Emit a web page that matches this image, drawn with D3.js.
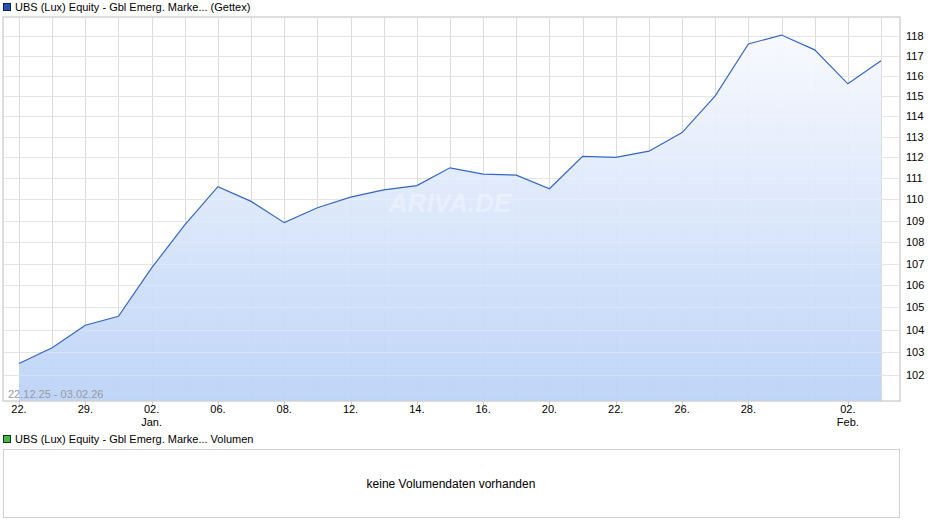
<!DOCTYPE html><html><head><meta charset="utf-8"><script src="https://cdn.jsdelivr.net/npm/d3@7"></script>
<style>body{margin:0;background:#fff;font-family:"Liberation Sans",Arial,sans-serif}</style></head><body><svg id="c" width="940" height="526"></svg>
<script>
const dates=["22.12","23.12","29.12","30.12","02.01","05.01","06.01","07.01","08.01","09.01","12.01","13.01","14.01","15.01","16.01","19.01","20.01","21.01","22.01","23.01","26.01","27.01","28.01","29.01","30.01","02.02","03.02"];
const values=[102.5,103.2,104.2,104.6,106.8,108.8,110.6,109.9,108.9,109.6,110.1,110.45,110.65,111.5,111.2,111.15,110.5,112.05,112.0,112.3,113.2,115.0,117.6,118.05,117.3,115.6,116.75];
const xLabels={"22.12":["22."],"29.12":["29."],"02.01":["02.","Jan."],"06.01":["06."],"08.01":["08."],"12.01":["12."],"14.01":["14."],"16.01":["16."],"20.01":["20."],"22.01":["22."],"26.01":["26."],"28.01":["28."],"02.02":["02.","Feb."]};
const yTicks=[102,103,104,105,106,107,108,109,110,111,112,113,114,115,116,117,118];
const svg=d3.select("#c");
const L=3,R=900,T=17,B=401;
const x=d3.scalePoint().domain(dates).range([19,881]);
const y=d3.scaleLog().domain([100.86,118.97]).range([B,T]);
const defs=svg.append("defs");
const g=defs.append("linearGradient").attr("id","gr").attr("x1",0).attr("y1",0).attr("x2",0).attr("y2",1);
g.append("stop").attr("offset","0%").attr("stop-color","#f7f9fe");
g.append("stop").attr("offset","100%").attr("stop-color","#bcd3f7");
svg.append("rect").attr("x",L).attr("y",T).attr("width",R-L).attr("height",B-T).attr("fill","#fff").attr("stroke","#d8d8d8");
const grid=svg.append("g").attr("stroke","#dcdcdc").attr("stroke-width",1);
yTicks.forEach(t=>grid.append("line").attr("x1",L).attr("x2",R).attr("y1",Math.round(y(t))+.5).attr("y2",Math.round(y(t))+.5));
dates.forEach(d=>grid.append("line").attr("x1",Math.round(x(d))+.5).attr("x2",Math.round(x(d))+.5).attr("y1",T).attr("y2",B));
const data=dates.map((d,i)=>({d,v:values[i]}));
svg.append("path").datum(data).attr("fill","url(#gr)").attr("opacity",0.95).attr("d",d3.area().x(p=>x(p.d)).y0(B).y1(p=>y(p.v)));
const grid2=svg.append("g").attr("stroke","#ffffff").attr("stroke-opacity",0.25);
yTicks.forEach(t=>grid2.append("line").attr("x1",L).attr("x2",R).attr("y1",Math.round(y(t))+.5).attr("y2",Math.round(y(t))+.5));
svg.append("text").attr("x",450).attr("y",212).attr("text-anchor","middle").attr("font-size",26).attr("font-weight","bold").attr("font-style","italic").attr("fill","#ffffff").attr("fill-opacity",0.35).text("ARIVA.DE");
svg.append("path").datum(data).attr("fill","none").attr("stroke","#3366cc").attr("stroke-width",1.2).attr("d",d3.line().x(p=>x(p.d)).y(p=>y(p.v)));
svg.append("rect").attr("x",L).attr("y",T).attr("width",R-L).attr("height",B-T).attr("fill","none").attr("stroke","#d0d0d0");
const yax=svg.append("g").attr("font-size",11).attr("fill","#000");
yTicks.forEach(t=>yax.append("text").attr("x",906).attr("y",y(t)+4).text(t));
const xax=svg.append("g").attr("font-size",11);
dates.forEach(d=>{if(xLabels[d]){xLabels[d].forEach((s,k)=>xax.append("text").attr("x",x(d)).attr("y",413+k*13).attr("text-anchor","middle").text(s));
 xax.append("line").attr("x1",Math.round(x(d))+.5).attr("x2",Math.round(x(d))+.5).attr("y1",B).attr("y2",B+4).attr("stroke","#ccc");}});
svg.append("text").attr("x",8).attr("y",398).attr("font-size",11).attr("fill","#999").text("22.12.25 - 03.02.26");
svg.append("rect").attr("x",3.5).attr("y",3.5).attr("width",7).attr("height",7).attr("fill","#2255bb").attr("stroke","#123");
svg.append("text").attr("x",15).attr("y",11).attr("font-size",11).text("UBS (Lux) Equity - Gbl Emerg. Marke... (Gettex)");
svg.append("rect").attr("x",3.5).attr("y",435.5).attr("width",7).attr("height",7).attr("fill","#44bb44").attr("stroke","#132");
svg.append("text").attr("x",15).attr("y",443).attr("font-size",11).text("UBS (Lux) Equity - Gbl Emerg. Marke... Volumen");
svg.append("rect").attr("x",3.5).attr("y",449.5).attr("width",896).attr("height",68).attr("fill","#fff").attr("stroke","#d0d0d0");
svg.append("text").attr("x",451).attr("y",488).attr("text-anchor","middle").attr("font-size",12).text("keine Volumendaten vorhanden");
</script></body></html>
